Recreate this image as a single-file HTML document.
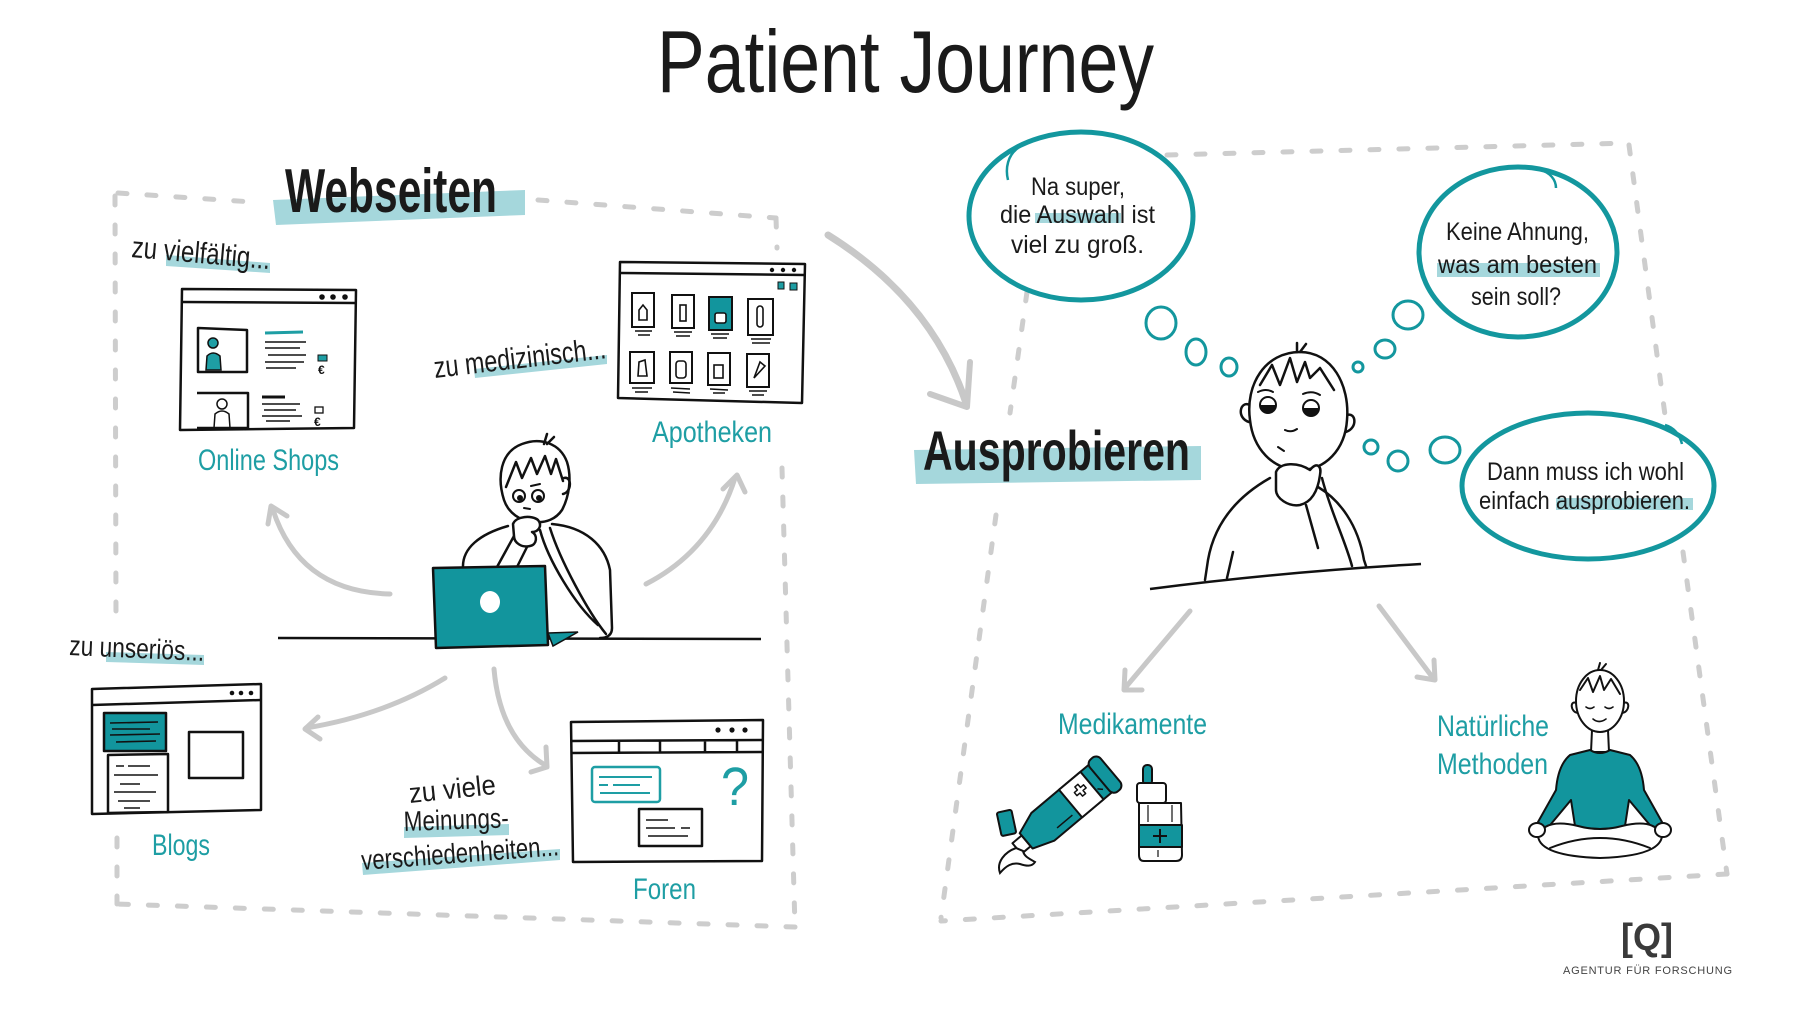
<!DOCTYPE html>
<html><head><meta charset="utf-8"><style>
html,body{margin:0;padding:0;background:#fff;}
svg{display:block}
text{font-family:"Liberation Sans Narrow","Liberation Sans",sans-serif;}
</style></head><body>
<svg width="1800" height="1013" viewBox="0 0 1800 1013" xmlns="http://www.w3.org/2000/svg">
<rect width="1800" height="1013" fill="#fff"/>

<!-- Dashed boxes -->
<g fill="none" stroke="#cdcdcd" stroke-width="5" stroke-linecap="round" stroke-dasharray="9 20">
  <path d="M118 193 L253 202"/>
  <path d="M538 200 L776 218"/>
  <path d="M776 218 L777 248"/>
  <path d="M782 468 L795 927"/>
  <path d="M795 927 L117 904"/>
  <path d="M115 196 L116 620"/>
  <path d="M117 838 L117 904"/>
  <path d="M1167 155 L1629 143"/>
  <path d="M1629 145 L1665 415"/>
  <path d="M1683 552 L1727 874"/>
  <path d="M1727 874 L941 921"/>
  <path d="M1027 292 L1010 413"/>
  <path d="M996 515 L941 918"/>
</g>

<!-- Title -->
<text x="657" y="92" font-size="88" fill="#1a1a1a" textLength="497" lengthAdjust="spacingAndGlyphs">Patient Journey</text>

<!-- Webseiten label -->
<polygon points="273,200 525,190 525,215 276,225" fill="#a5d7dc"/>
<text x="285" y="212" font-size="62" font-weight="bold" fill="#1a1a1a" textLength="212" lengthAdjust="spacingAndGlyphs">Webseiten</text>

<!-- Ausprobieren label -->
<polygon points="914,450 1201,446 1201,480 916,484" fill="#a5d7dc"/>
<text x="923" y="470" font-size="56" font-weight="bold" fill="#1a1a1a" textLength="267" lengthAdjust="spacingAndGlyphs">Ausprobieren</text>

<!-- annotations -->
<polygon points="166,255 270,263 270,273 166,266" fill="#a5d7dc"/>
<text x="131" y="257" font-size="30" fill="#1a1a1a" textLength="139" lengthAdjust="spacingAndGlyphs" transform="rotate(5 131 257)">zu vielfältig...</text>

<polygon points="474,369 607,355 607,364 475,378" fill="#a5d7dc"/>
<text x="435" y="378" font-size="30" fill="#1a1a1a" textLength="173" lengthAdjust="spacingAndGlyphs" transform="rotate(-6.6 435 378)">zu medizinisch...</text>

<polygon points="106,652 204,655 204,665 106,662" fill="#a5d7dc"/>
<text x="69" y="655" font-size="28" fill="#1a1a1a" textLength="135" lengthAdjust="spacingAndGlyphs" transform="rotate(2.5 69 655)">zu unseriös...</text>

<text x="410" y="803" font-size="28" fill="#1a1a1a" textLength="87" lengthAdjust="spacingAndGlyphs" transform="rotate(-6 410 803)">zu viele</text>
<polygon points="404,827 509,824 509,835 404,838" fill="#a5d7dc"/>
<text x="404" y="831" font-size="28" fill="#1a1a1a" textLength="105" lengthAdjust="spacingAndGlyphs" transform="rotate(-2 404 831)">Meinungs-</text>
<polygon points="362,863 560,849 560,860 363,875" fill="#a5d7dc"/>
<text x="362" y="870" font-size="28" fill="#1a1a1a" textLength="198" lengthAdjust="spacingAndGlyphs" transform="rotate(-4.3 362 870)">verschiedenheiten...</text>

<!-- teal labels -->
<g fill="#1e9ea4" font-size="30">
  <text x="198" y="470" textLength="141" lengthAdjust="spacingAndGlyphs">Online Shops</text>
  <text x="652" y="442" textLength="120" lengthAdjust="spacingAndGlyphs">Apotheken</text>
  <text x="152" y="855" textLength="58" lengthAdjust="spacingAndGlyphs">Blogs</text>
  <text x="633" y="899" textLength="63" lengthAdjust="spacingAndGlyphs">Foren</text>
  <text x="1058" y="734" textLength="149" lengthAdjust="spacingAndGlyphs">Medikamente</text>
  <text x="1437" y="736" textLength="112" lengthAdjust="spacingAndGlyphs">Natürliche</text>
  <text x="1437" y="774" textLength="111" lengthAdjust="spacingAndGlyphs">Methoden</text>
</g>

<!-- gray arrows -->
<g fill="none" stroke="#c8c8c8" stroke-width="5" stroke-linecap="round" stroke-linejoin="round">
  <path d="M390 594 Q300 592 273 510"/>
  <path d="M268 524 L271 506 L287 516"/>
  <path d="M646 584 Q712 550 735 478"/>
  <path d="M723 489 L737 475 L745 492"/>
  <path d="M445 678 Q385 715 306 728"/>
  <path d="M318 717 L305 729 L320 739"/>
  <path d="M494 669 Q500 738 545 765"/>
  <path d="M546 747 L547 767 L531 772"/>
  <path d="M828 235 Q932 300 966 403" stroke-width="7"/>
  <path d="M970 362 L967 407 L930 394" stroke-width="6"/>
  <path d="M1190 611 L1125 688"/>
  <path d="M1125 670 L1124 690 L1142 690"/>
  <path d="M1379 606 L1433 678"/>
  <path d="M1434 660 L1435 680 L1417 677"/>
</g>

<!-- Online Shops window -->
<g stroke="#111" stroke-width="2.5" fill="#fff" stroke-linejoin="round">
  <path d="M182 289 L356 290 L354 428 L180 430 Z"/>
  <path d="M182 302 L355 303" fill="none"/>
  <circle cx="322" cy="297" r="2.3" fill="#111" stroke-width="1"/>
  <circle cx="333" cy="297" r="2.3" fill="#111" stroke-width="1"/>
  <circle cx="345" cy="297" r="2.3" fill="#111" stroke-width="1"/>
  <path d="M198 328 L247 330 L247 372 L198 372 Z"/>
  <path d="M197 393 L248 393 L248 428 L197 428"/>
</g>
<circle cx="213" cy="343" r="5" fill="#1e9ea4" stroke="#111" stroke-width="1.5"/>
<path d="M206 370 L207 356 Q213 350 220 356 L221 370 Z" fill="#1e9ea4" stroke="#111" stroke-width="1.5"/>
<circle cx="222" cy="404" r="5" fill="#fff" stroke="#111" stroke-width="1.5"/>
<path d="M214 428 L215 414 Q222 408 229 414 L230 428" fill="none" stroke="#111" stroke-width="1.5"/>
<path d="M265 333 L303 332" stroke="#1e9ea4" stroke-width="3"/>
<g stroke="#111" stroke-width="1.6">
  <path d="M265 342 L306 342 M265 348 L300 348 M268 355 L306 355 M265 362 L304 362 M266 368 L296 368"/>
  <path d="M262 397 L285 397" stroke-width="3"/>
  <path d="M262 404 L300 404 M264 410 L296 410 M262 416 L302 416 M266 421 L290 421"/>
</g>
<rect x="318" y="355" width="9" height="6" fill="#1e9ea4" stroke="#111" stroke-width="1"/>
<text x="318" y="374" font-size="12" font-weight="bold" fill="#111">€</text>
<rect x="315" y="407" width="8" height="6" fill="#fff" stroke="#111" stroke-width="1.3"/>
<text x="314" y="426" font-size="12" font-weight="bold" fill="#111">€</text>

<!-- Apotheken window -->
<g stroke="#111" stroke-width="2.5" fill="#fff" stroke-linejoin="round">
  <path d="M620 262 L805 264 L802 403 L618 398 Z"/>
  <path d="M620 273 L804 275" fill="none"/>
</g>
<g fill="#111"><circle cx="772" cy="270" r="2.2"/><circle cx="783" cy="270" r="2.2"/><circle cx="794" cy="270" r="2.2"/></g>
<rect x="778" y="282" width="6" height="7" fill="#1e9ea4" stroke="#111" stroke-width="1"/>
<rect x="790" y="283" width="7" height="7" fill="#1e9ea4" stroke="#111" stroke-width="1"/>
<g stroke="#111" stroke-width="2" fill="#fff">
  <rect x="632" y="293" width="22" height="34"/>
  <rect x="672" y="295" width="22" height="33"/>
  <rect x="709" y="297" width="23" height="33" fill="#12959d"/>
  <rect x="748" y="299" width="25" height="36"/>
  <rect x="630" y="352" width="24" height="31"/>
  <rect x="670" y="352" width="22" height="31"/>
  <rect x="708" y="353" width="22" height="32"/>
  <rect x="747" y="354" width="22" height="33"/>
</g>
<g stroke="#111" stroke-width="1.6" fill="#fff">
  <path d="M639 320 L639 310 L643 305 L647 310 L647 320 Z"/>
  <rect x="680" y="305" width="6" height="16"/>
  <rect x="715" y="313" width="11" height="10" rx="2"/>
  <rect x="757" y="306" width="6" height="21" rx="3"/>
  <path d="M638 376 L639 362 L645 360 L647 376 Z"/>
  <rect x="676" y="361" width="10" height="17" rx="3"/>
  <rect x="714" y="365" width="9" height="13"/>
  <path d="M754 378 L760 362 L765 366 Z"/>
</g>
<g stroke="#111" stroke-width="1.4">
  <path d="M635 331 L652 331 M638 335 L650 335 M674 332 L692 332 M676 336 L690 336 M711 334 L729 334 M713 338 L727 338 M751 339 L771 339 M752 343 L770 343"/>
  <path d="M632 388 L652 388 M635 392 L648 392 M671 388 L690 389 M673 392 L690 393 M710 389 L728 390 M713 393 L725 393 M749 391 L767 391 M752 395 L764 395"/>
</g>

<!-- Blogs window -->
<g stroke="#111" stroke-width="2.5" fill="#fff" stroke-linejoin="round">
  <path d="M92 689 L261 684 L261 810 L92 814 Z"/>
  <path d="M92 705 L261 700" fill="none"/>
  <rect x="104" y="713" width="62" height="38" fill="#12959d"/>
  <path d="M108 755 L168 754 L168 812 L108 813 Z"/>
  <rect x="189" y="732" width="54" height="46"/>
</g>
<g fill="#111"><circle cx="232" cy="693" r="2.3"/><circle cx="241" cy="693" r="2.3"/><circle cx="251" cy="693" r="2.3"/></g>
<g stroke="#111" stroke-width="1.6">
  <path d="M110 723 L158 722 M112 729 L150 729 M110 735 L160 734 M116 742 L156 741"/>
  <path d="M116 766 L124 766 M128 766 L150 766 M114 775 L158 775 M120 784 L140 784 M114 792 L156 792 M118 801 L150 801 M124 808 L140 808"/>
</g>

<!-- Foren window -->
<g stroke="#111" stroke-width="2.5" fill="#fff" stroke-linejoin="round">
  <path d="M571 722 L763 720 L762 861 L573 862 Z"/>
  <path d="M571 741 L763 740 M571 753 L763 752 M619 741 L619 753 M660 741 L660 753 M705 741 L705 753 M737 741 L737 752" fill="none"/>
  <rect x="639" y="809" width="63" height="37"/>
</g>
<g fill="#111"><circle cx="718" cy="730" r="2.6"/><circle cx="732" cy="730" r="2.6"/><circle cx="745" cy="730" r="2.6"/></g>
<rect x="592" y="767" width="68" height="35" rx="3" fill="#fff" stroke="#1e9ea4" stroke-width="2.5"/>
<g stroke="#1e9ea4" stroke-width="2"><path d="M599 777 L652 777 M599 785 L608 785 M613 785 L640 785 M600 793 L650 793"/></g>
<g stroke="#111" stroke-width="1.6"><path d="M646 820 L668 820 M646 828 L675 828 M681 828 L690 828 M648 836 L688 836"/></g>
<text x="721" y="805" font-size="54" fill="#1e9ea4" textLength="28" lengthAdjust="spacingAndGlyphs">?</text>

<!-- Left person with laptop -->
<g stroke="#111" stroke-width="2.5" fill="#fff" stroke-linecap="round" stroke-linejoin="round">
  <path d="M463 568 C462 548 480 534 508 526 L552 524 C585 527 605 545 610 570 L612 628 C612 637 606 638 600 638 L470 638 Z" stroke="none"/>
  <path d="M463 568 C462 548 480 534 508 526" fill="none"/>
  <path d="M552 524 C585 527 605 545 610 570 L612 628 C612 636 606 638 600 638" fill="none"/>
</g>
<path d="M278 638 L761 639" stroke="#111" stroke-width="2.5" fill="none"/>
<g stroke="#111" stroke-width="2.5" fill="#fff" stroke-linecap="round" stroke-linejoin="round">
  <path d="M504 500 C497 478 500 452 522 444 C540 437 560 443 567 462 C572 478 569 497 562 510 C556 519 546 523 535 522 C520 522 508 512 504 500 Z"/>
  <path d="M544 444 L547 434 M547 444 L554 437" fill="none"/>
  <path d="M506 487 L516 462 L522 478 L531 458 L537 474 L545 456 L551 474 L556 459 L563 481" fill="none"/>
  <path d="M564 478 C572 476 572 492 563 494" fill="none"/>
  <circle cx="519" cy="496" r="6" stroke-width="2"/>
  <circle cx="538" cy="496" r="6" stroke-width="2"/>
  <path d="M531 486 L540 484 M524 508 L530 509" fill="none" stroke-width="2"/>
  <path d="M540 530 C548 560 575 605 598 625 M550 528 C560 560 588 612 606 634" fill="none"/>
  <path d="M514 536 L497 567 M528 545 L517 567" fill="none"/>
  <path d="M513 524 C516 516 532 515 538 520 C543 526 538 532 532 532 C538 535 537 545 530 546 C522 548 514 543 514 536 Z"/>
</g>
<circle cx="520" cy="498" r="3" fill="#111"/>
<circle cx="539" cy="498" r="3" fill="#111"/>
<path d="M433 568 L545 566 L548 645 L436 648 Z" fill="#12959d" stroke="#111" stroke-width="2.5" stroke-linejoin="round"/>
<ellipse cx="490" cy="602" rx="10" ry="11" fill="#fff"/>
<path d="M548 633 L578 632 L553 646 Z" fill="#12959d" stroke="#111" stroke-width="1.5"/>

<!-- Big thought bubbles -->
<g fill="none" stroke="#13979e" stroke-width="5">
  <ellipse cx="1081" cy="216" rx="112" ry="84"/>
  <ellipse cx="1518" cy="252" rx="99" ry="85"/>
  <ellipse cx="1588" cy="486" rx="126" ry="73"/>
</g>
<g fill="none" stroke="#13979e" stroke-width="2.5">
  <path d="M1018 148 C1008 155 1005 168 1008 180"/>
  <path d="M1540 170 C1550 172 1556 180 1556 188"/>
  <path d="M1665 425 C1675 428 1680 436 1682 444"/>
</g>
<!-- small thought circles -->
<g fill="none" stroke="#13979e" stroke-width="3">
  <ellipse cx="1161" cy="323" rx="15" ry="16"/>
  <ellipse cx="1196" cy="352" rx="10" ry="13"/>
  <ellipse cx="1229" cy="367" rx="8" ry="9"/>
  <ellipse cx="1408" cy="315" rx="15" ry="14"/>
  <ellipse cx="1385" cy="349" rx="10" ry="9"/>
  <ellipse cx="1358" cy="367" rx="5" ry="5"/>
  <ellipse cx="1445" cy="450" rx="15" ry="13"/>
  <ellipse cx="1398" cy="461" rx="10" ry="10"/>
  <ellipse cx="1371" cy="447" rx="7" ry="7"/>
</g>

<!-- bubble texts -->
<polygon points="1035,213 1121,213 1121,223 1035,223" fill="#a5d7dc"/>
<polygon points="1437,263 1600,263 1600,277 1437,277" fill="#a5d7dc"/>
<polygon points="1556,498 1693,498 1693,510 1556,510" fill="#a5d7dc"/>
<g fill="#1a1a1a" font-size="25">
  <text x="1031" y="195" textLength="94" lengthAdjust="spacingAndGlyphs">Na super,</text>
  <text x="1000" y="223" textLength="155" lengthAdjust="spacingAndGlyphs">die Auswahl ist</text>
  <text x="1011" y="253" textLength="133" lengthAdjust="spacingAndGlyphs">viel zu groß.</text>
  <text x="1446" y="240" textLength="143" lengthAdjust="spacingAndGlyphs">Keine Ahnung,</text>
  <text x="1438" y="273" textLength="159" lengthAdjust="spacingAndGlyphs">was am besten</text>
  <text x="1471" y="305" textLength="90" lengthAdjust="spacingAndGlyphs">sein soll?</text>
  <text x="1487" y="480" textLength="197" lengthAdjust="spacingAndGlyphs">Dann muss ich wohl</text>
  <text x="1479" y="509" textLength="211" lengthAdjust="spacingAndGlyphs">einfach ausprobieren.</text>
</g>

<!-- Right thinking person -->
<g stroke="#111" stroke-width="2.5" fill="#fff" stroke-linecap="round" stroke-linejoin="round">
  <path d="M1270 478 C1240 495 1215 520 1208 560 L1205 580" fill="none"/>
  <path d="M1318 487 C1340 500 1358 525 1364 560 L1366 566" fill="none"/>
  <path d="M1233 552 L1227 578" fill="none"/>
  <path d="M1306 505 L1318 548 M1322 478 C1330 510 1345 540 1352 566" fill="none"/>
  <path d="M1250 405 C1240 400 1236 418 1249 422"/>
  <path d="M1347 415 C1356 412 1358 428 1346 432"/>
  <path d="M1250 420 C1245 385 1265 352 1300 352 C1332 352 1350 385 1347 420 C1345 450 1325 470 1300 470 C1272 470 1253 448 1250 420 Z"/>
  <path d="M1297 352 L1297 343 M1300 352 L1306 344" fill="none"/>
  <path d="M1260 385 L1272 365 L1280 385 L1290 358 L1297 382 L1305 362 L1310 378 L1320 368 L1334 390" fill="none"/>
  <circle cx="1268" cy="405" r="8" stroke-width="2"/>
  <circle cx="1311" cy="408" r="8" stroke-width="2"/>
  <path d="M1258 392 Q1266 388 1273 392 M1303 394 Q1312 390 1320 395 M1285 430 Q1291 433 1297 429 M1278 447 L1284 451" fill="none" stroke-width="2"/>
  <path d="M1276 472 C1280 462 1298 462 1310 470 C1316 462 1322 465 1320 475 C1318 490 1312 502 1300 505 C1288 507 1276 498 1276 490 Z"/>
</g>
<path d="M1260 405 A8 8 0 0 0 1276 405 Z" fill="#111"/>
<path d="M1303 408 A8 8 0 0 0 1319 408 Z" fill="#111"/>
<path d="M1150 589 Q1280 572 1421 564" stroke="#111" stroke-width="2.5" fill="none"/>

<!-- Medicine -->
<g transform="translate(1020 846) rotate(-40)" stroke="#111" stroke-width="2" stroke-linejoin="round">
  <rect x="-4" y="-7" width="12" height="14" fill="#fff"/>
  <path d="M8 -10 L30 -18 L108 -18 L108 18 L30 18 L8 10 Z" fill="#12959d"/>
  <rect x="66" y="-18" width="28" height="36" fill="#fff"/>
  <path d="M76 -6 L80 -6 L80 -10 L84 -10 L84 -6 L88 -6 L88 -2 L84 -2 L84 2 L80 2 L80 -2 L76 -2 Z" fill="#fff" stroke-width="1.5"/>
  <rect x="104" y="-21" width="14" height="42" rx="6" fill="#12959d"/>
  <path d="M40 10 L60 10 M96 6 L100 10" fill="none" stroke-width="1.5"/>
</g>
<rect x="999" y="811" width="15" height="24" rx="2" fill="#12959d" stroke="#111" stroke-width="2" transform="rotate(-12 1006 823)"/>
<path d="M1016 848 C1005 852 996 862 1000 873 C1006 866 1012 862 1020 864 C1026 866 1032 867 1035 862 C1028 858 1024 856 1023 851 Z" fill="#fff" stroke="#111" stroke-width="2"/>
<g stroke="#111" stroke-width="2" stroke-linejoin="round">
  <rect x="1143" y="765" width="9" height="20" rx="4" fill="#12959d"/>
  <rect x="1137" y="783" width="29" height="20" rx="3" fill="#fff"/>
  <path d="M1139 803 L1181 803 L1182 855 Q1182 861 1176 861 L1144 861 Q1139 861 1139 855 Z" fill="#fff"/>
  <rect x="1139" y="825" width="43" height="22" fill="#12959d"/>
  <path d="M1160 829 L1160 843 M1153 836 L1167 836" fill="none"/>
  <path d="M1148 805 L1148 822 M1172 805 L1172 822 M1158 850 L1158 857" fill="none" stroke-width="1.2"/>
</g>

<!-- Meditating person -->
<g stroke="#111" stroke-width="2" stroke-linejoin="round" stroke-linecap="round">
  <path d="M1592 730 L1591 752 L1609 752 L1608 730" fill="#fff"/>
  <path d="M1590 750 Q1600 756 1610 750 L1630 755 Q1642 765 1644 790 L1662 822 L1654 830 L1629 800 L1625 826 Q1600 832 1575 826 L1571 800 L1546 830 L1538 822 L1556 790 Q1558 765 1570 755 Z" fill="#12959d"/>
  <path d="M1538 836 Q1545 818 1578 826 Q1600 832 1622 826 Q1655 818 1662 836 Q1660 856 1600 858 Q1540 856 1538 836 Z" fill="#fff"/>
  <path d="M1550 848 Q1600 828 1650 848" fill="none"/>
  <ellipse cx="1537" cy="830" rx="8" ry="7" fill="#fff"/>
  <ellipse cx="1663" cy="830" rx="8" ry="7" fill="#fff"/>
  <path d="M1576 703 C1570 700 1570 712 1578 713 M1624 703 C1630 700 1630 712 1622 713" fill="#fff"/>
  <ellipse cx="1600" cy="701" rx="24" ry="31" fill="#fff"/>
  <path d="M1580 690 L1588 678 L1593 692 L1600 676 L1604 690 L1611 679 L1620 694" fill="none"/>
  <path d="M1598 670 L1600 663 M1601 670 L1606 664" fill="none"/>
  <path d="M1586 707 Q1590 710 1594 707 M1605 707 Q1609 710 1613 707 M1593 719 Q1599 724 1606 719" fill="none" stroke-width="1.6"/>
</g>

<!-- Logo -->
<text x="1621" y="950" font-size="38" font-weight="bold" fill="#3a3a3a" textLength="52" lengthAdjust="spacingAndGlyphs">[Q]</text>
<text x="1563" y="974" font-size="11" fill="#444" textLength="169" lengthAdjust="spacing" font-family="Liberation Sans, sans-serif">AGENTUR FÜR FORSCHUNG</text>
</svg>
</body></html>
